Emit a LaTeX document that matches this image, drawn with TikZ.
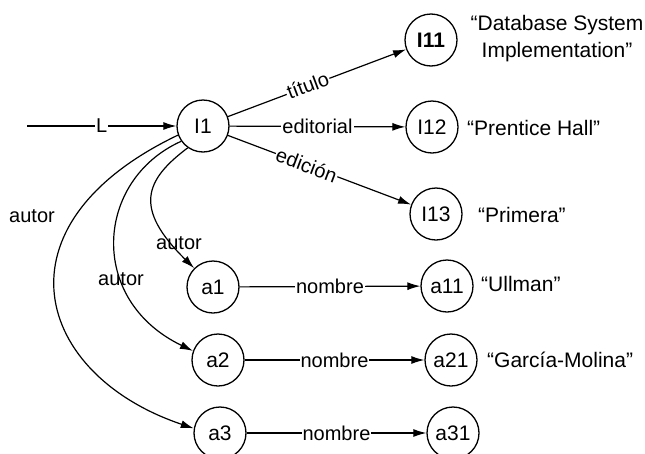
\documentclass[tikz,border=0pt]{standalone}
\usepackage{fontspec}
\setmainfont{Liberation Sans}
\usetikzlibrary{arrows.meta}
\begin{document}
\begin{tikzpicture}[x=1pt,y=-1pt,
  obj/.style={circle,draw,line width=1.3pt,minimum size=52pt,inner sep=0pt,
    font=\fontsize{21}{23}\selectfont},
  edge/.style={line width=1.2pt,-{Latex[length=13pt,width=8pt]}},
  lbl/.style={fill=white,inner sep=1pt,font=\fontsize{20}{22}\selectfont},
  free/.style={inner sep=0pt,font=\fontsize{20}{22}\selectfont},
  val/.style={inner sep=0pt,anchor=west,font=\fontsize{21}{23}\selectfont}]
\useasboundingbox (0,0) rectangle (645,453);

% objects
\node[obj] (I1)  at (203,126) {I1};
\node[obj,font=\fontsize{21}{23}\selectfont\bfseries] (I11) at (431,40) {I11};
\node[obj] (I12) at (432,127) {I12};
\node[obj] (I13) at (436,214) {I13};
\node[obj] (a1)  at (213,287) {a1};
\node[obj] (a2)  at (218,360) {a2};
\node[obj] (a3)  at (220,433) {a3};
\node[obj] (a11) at (447,286) {a11};
\node[obj] (a21) at (451,360) {a21};
\node[obj] (a31) at (453,433) {a31};

% atomic values
\node[inner sep=0pt,align=center,font=\fontsize{21}{27}\selectfont] (v11) at (557,39)
  {“Database System\\Implementation”};
\node[val] (v12) at (467,128) {“Prentice Hall”};
\node[val] (v13) at (478,215) {“Primera”};
\node[val] (v21) at (481,284) {“Ullman”};
\node[val] (v22) at (487,360) {“García-Molina”};

% entry point
\coordinate (L0) at (27,126);
\draw[edge] (L0) -- node[lbl]{L} (I1);

% book attributes
\draw[edge] (I1) -- node[lbl,sloped,pos=0.45,yshift=1pt]{título} (I11);
\draw[edge] (I1) -- node[lbl]{editorial} (I12);
\draw[edge] (I1) -- node[lbl,sloped,pos=0.43]{edición} (I13);

% authors
\draw[edge] (I1.235) .. controls (145,180) and (133,208) .. (a1.135);
\draw[edge] (I1.215) .. controls (95,180) and (87,300) .. (a2.160);
\draw[edge] (I1.200) .. controls (-10,225) and (35,375) .. (a3.170);
\node[free] (t1) at (179,243) {autor};
\node[free] (t2) at (121,279) {autor};
\node[free] (t3) at (32,216) {autor};

% author names
\draw[edge] (a1) -- node[lbl]{nombre} (a11);
\draw[edge] (a2) -- node[lbl]{nombre} (a21);
\draw[edge] (a3) -- node[lbl]{nombre} (a31);
\end{tikzpicture}
\end{document}
